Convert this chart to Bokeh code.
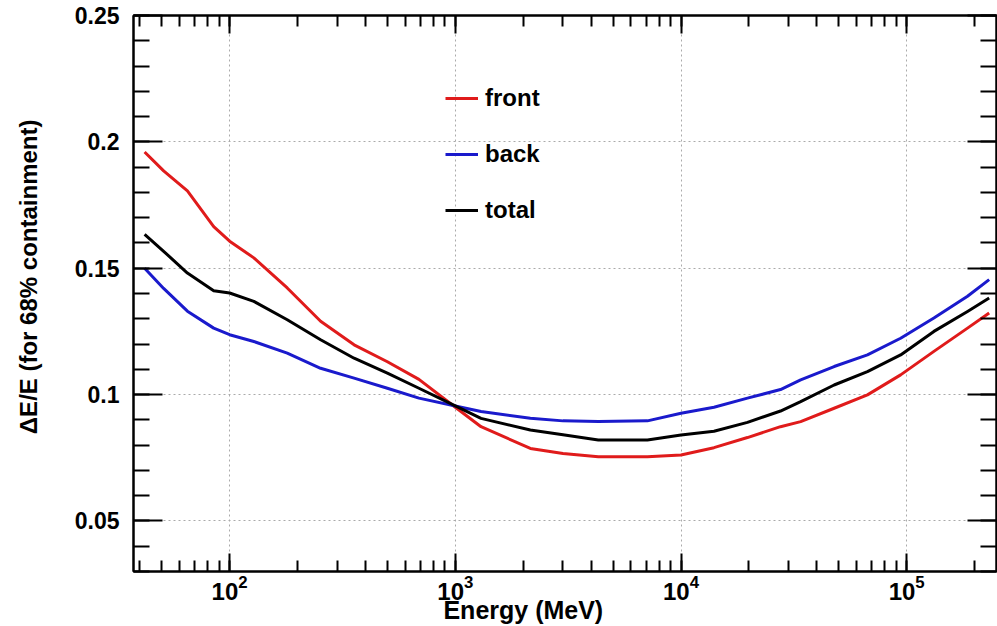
from bokeh.plotting import figure
from bokeh.models import (LogAxis, LinearAxis, FixedTicker, LogTicker, Legend, LegendItem,
                          CustomJSTickFormatter, Range1d, LogScale, LinearScale, Grid)
from bokeh.embed import file_html
from bokeh.resources import INLINE

energy = [42, 51, 65, 85, 100, 128, 180, 253, 356, 500, 690, 1000, 1300, 2150, 3000, 4300,
          7100, 10000, 14000, 19700, 27600, 33900, 47700, 67000, 94000, 132000, 186000, 232000]
front = [0.196, 0.1885, 0.1806, 0.1665, 0.1607, 0.1541, 0.1422, 0.129, 0.1197, 0.113, 0.106,
         0.095, 0.0873, 0.0787, 0.0767, 0.0754, 0.0754, 0.0761, 0.079, 0.083, 0.0873, 0.0893,
         0.0946, 0.0999, 0.1078, 0.1171, 0.1263, 0.1323]
back = [0.150, 0.142, 0.133, 0.1263, 0.1237, 0.121, 0.1164, 0.1104, 0.1065, 0.1025, 0.0986,
        0.0955, 0.0933, 0.0906, 0.0896, 0.0894, 0.0896, 0.0926, 0.095, 0.0986, 0.102, 0.1058,
        0.1111, 0.1157, 0.1223, 0.1303, 0.1389, 0.1455]
total = [0.1634, 0.1567, 0.1481, 0.1411, 0.1402, 0.1369, 0.1296, 0.1217, 0.1144, 0.1085, 0.1025,
         0.0955, 0.0906, 0.086, 0.0841, 0.082, 0.082, 0.084, 0.0855, 0.089, 0.0935, 0.0972,
         0.1038, 0.1091, 0.1157, 0.125, 0.1329, 0.1382]
series_names = ["front", "back", "total"]
series_colors = ["#e01b1b", "#1a1acc", "#000000"]
y_ticks = [0.05, 0.1, 0.15, 0.2, 0.25]
y_minor = [round(0.03 + 0.01 * i, 2) for i in range(23)]

FONT = "Liberation Sans"
NB = "\u00a0"

p = figure(width=997, height=626, x_axis_type=None, y_axis_type=None,
           x_range=Range1d(37.5, 2.5e5), y_range=Range1d(0.03, 0.25),
           output_backend="svg", toolbar_location=None,
           min_border_left=133, min_border_right=1, min_border_top=15, min_border_bottom=55)
p.x_scale = LogScale()
p.y_scale = LinearScale()
p.outline_line_color = "black"
p.outline_line_width = 2
p.background_fill_color = "white"
p.border_fill_color = "white"

xticker = LogTicker(num_minor_ticks=10)
yticker = FixedTicker(ticks=y_ticks, minor_ticks=y_minor)

xb = LogAxis(ticker=xticker, axis_label="Energy (MeV)" + NB * 12)
yl = LinearAxis(ticker=yticker, axis_label=NB * 5 + "\u0394E/E (for 68% containment)",
                formatter=CustomJSTickFormatter(code="return String(Math.round(tick*100)/100);"))
xt = LogAxis(ticker=xticker)
yr = LinearAxis(ticker=yticker)

for ax in (xb, yl, xt, yr):
    ax.axis_line_color = "black"
    ax.axis_line_width = 2
    ax.major_tick_out = 0
    ax.minor_tick_out = 0
    ax.major_tick_line_color = "black"
    ax.minor_tick_line_color = "black"
    ax.major_tick_line_width = 2
    ax.minor_tick_line_width = 2
    ax.major_label_text_font = FONT
    ax.major_label_text_font_style = "bold"
    ax.major_label_text_color = "black"
    ax.axis_label_text_font = FONT
    ax.axis_label_text_font_style = "bold"
    ax.axis_label_text_color = "black"

xb.major_tick_in = 18
xb.minor_tick_in = 11
xt.major_tick_in = 18
xt.minor_tick_in = 11
yl.major_tick_in = 29
yl.minor_tick_in = 16
yr.major_tick_in = 29
yr.minor_tick_in = 16

xb.major_label_text_font_size = "24px"
xb.major_label_standoff = 3
xb.axis_label_text_font_size = "25px"
xb.axis_label_standoff = -7
yl.major_label_text_font_size = "23px"
yl.major_label_standoff = 14
yl.axis_label_text_font_size = "24px"
yl.axis_label_standoff = 30

for ax in (xt, yr):
    ax.major_label_text_font_size = "1px"
    ax.major_label_text_alpha = 0
    ax.major_label_standoff = 0

p.add_layout(xb, "below")
p.add_layout(yl, "left")
p.add_layout(xt, "above")
p.add_layout(yr, "right")

gx = Grid(dimension=0, ticker=xticker, grid_line_color="#aaaaaa", grid_line_dash="2 3",
          grid_line_width=1)
gy = Grid(dimension=1, ticker=yticker, grid_line_color="#aaaaaa", grid_line_dash="2 3",
          grid_line_width=1)
p.add_layout(gx)
p.add_layout(gy)

items = []
for name, vals, col in zip(series_names, [front, back, total], series_colors):
    r = p.line(energy, vals, line_color=col, line_width=3, line_join="round")
    items.append(LegendItem(label=name, renderers=[r]))

legend = Legend(items=items, location=(302, 336), border_line_alpha=0, background_fill_alpha=0,
                label_text_font=FONT, label_text_font_style="bold", label_text_font_size="24px",
                label_text_color="black",
                glyph_width=33, glyph_height=30, label_height=30, spacing=26, label_standoff=7,
                padding=10, margin=0)
p.add_layout(legend, "center")

open("out.html", "w").write(file_html(p, INLINE))
